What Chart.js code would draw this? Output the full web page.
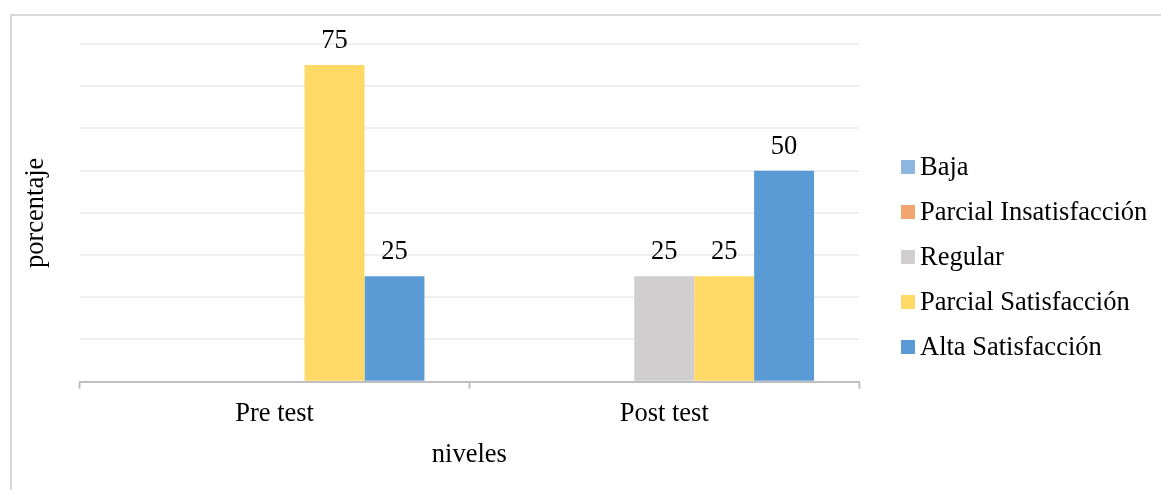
<!DOCTYPE html>
<html>
<head>
<meta charset="utf-8">
<script src="https://cdn.jsdelivr.net/npm/chart.js@4/dist/chart.umd.min.js"></script>
<style>
  html, body { margin: 0; padding: 0; background: #ffffff; }
  #wrap { position: relative; width: 1161px; height: 490px; overflow: hidden; }
  #frame { position: absolute; left: 10px; top: 14px; width: 1300px; height: 600px;
           border-left: 2px solid #d9d9d9; border-top: 2px solid #d9d9d9; box-sizing: border-box; }
  canvas { position: absolute; left: 0; top: 0; }
</style>
</head>
<body>
<div id="wrap">
  <div id="frame"></div>
  <canvas id="chart" width="1161" height="490"></canvas>
</div>
<script>
// Categories and series (percentages); null = no bar for that level
const categories = ['Pre test', 'Post test'];
const seriesNames = ['Baja', 'Parcial Insatisfacción', 'Regular', 'Parcial Satisfacción', 'Alta Satisfacción'];
const baja = [null, null];
const parcialInsatisfaccion = [null, null];
const regular = [null, 25];
const parcialSatisfaccion = [75, 25];
const altaSatisfaccion = [25, 50];
const seriesColors = ['#8db6e0', '#f4a672', '#d0cece', '#ffd966', '#5b9bd5'];
const yMin = 0, yMax = 80, yStep = 10;

const FONT = '"Liberation Serif", "Times New Roman", serif';
const FONT_SIZE = 26.5;

const seriesValues = [baja, parcialInsatisfaccion, regular, parcialSatisfaccion, altaSatisfaccion];

// Value labels above each bar
const valueLabels = {
  id: 'valueLabels',
  afterDatasetsDraw(chart) {
    const ctx = chart.ctx;
    ctx.save();
    ctx.font = FONT_SIZE + 'px ' + FONT;
    ctx.fillStyle = '#000000';
    ctx.textAlign = 'center';
    ctx.textBaseline = 'alphabetic';
    chart.data.datasets.forEach((ds, i) => {
      const meta = chart.getDatasetMeta(i);
      meta.data.forEach((bar, j) => {
        const v = ds.data[j];
        if (v === null || v === undefined) return;
        ctx.fillText(String(v), bar.x, bar.y - 17);
      });
    });
    ctx.restore();
  }
};

// Legend listed to the right of the plot
const sideLegend = {
  id: 'sideLegend',
  afterDraw(chart) {
    const ctx = chart.ctx;
    const area = chart.chartArea;
    const boxX = area.right + 42;
    const firstY = area.top + 123;
    const step = 45;
    const box = 14;
    ctx.save();
    ctx.font = FONT_SIZE + 'px ' + FONT;
    ctx.textAlign = 'left';
    ctx.textBaseline = 'alphabetic';
    chart.data.datasets.forEach((ds, i) => {
      const cy = firstY + i * step;
      ctx.fillStyle = ds.backgroundColor;
      ctx.fillRect(boxX, cy - box / 2, box, box);
      ctx.fillStyle = '#000000';
      ctx.fillText(ds.label, boxX + box + 5, cy + 8);
    });
    ctx.restore();
  }
};

new Chart(document.getElementById('chart'), {
  type: 'bar',
  data: {
    labels: categories,
    datasets: seriesNames.map((name, i) => ({
      label: name,
      data: seriesValues[i],
      backgroundColor: seriesColors[i],
      borderWidth: 0,
      categoryPercentage: 0.7692,
      barPercentage: 1.0
    }))
  },
  options: {
    responsive: false,
    animation: false,
    devicePixelRatio: 1,
    layout: { padding: { left: 12, right: 302, top: 44, bottom: 19 } },
    plugins: {
      legend: { display: false },
      tooltip: { enabled: false }
    },
    scales: {
      x: {
        offset: true,
        border: { display: true, color: '#bfbfbf', width: 2 },
        grid: { display: true, drawOnChartArea: false, drawTicks: true, tickLength: 7,
                tickColor: '#bfbfbf', tickWidth: 2, offset: true },
        ticks: { color: '#000000', padding: 12, font: { family: FONT, size: FONT_SIZE, lineHeight: 1.0 } },
        title: { display: true, text: 'niveles', color: '#000000', padding: { top: 0, bottom: 0 },
                 font: { family: FONT, size: FONT_SIZE } }
      },
      y: {
        min: yMin,
        max: yMax,
        border: { display: false },
        grid: { color: '#efefef', lineWidth: 2, drawTicks: false },
        ticks: { display: false, stepSize: yStep },
        title: { display: true, text: 'porcentaje', color: '#000000', padding: { top: 8, bottom: 28 },
                 font: { family: FONT, size: FONT_SIZE } }
      }
    }
  },
  plugins: [valueLabels, sideLegend]
});
</script>
</body>
</html>
